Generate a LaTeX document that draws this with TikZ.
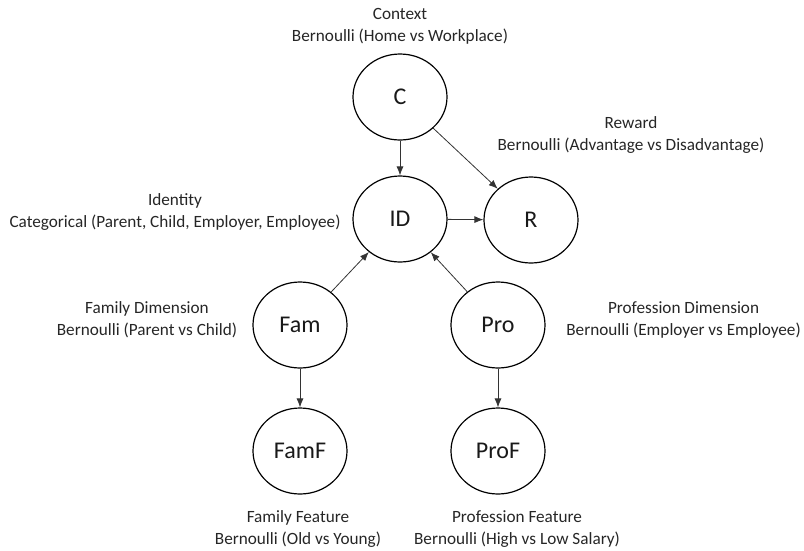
\documentclass[tikz,border=0pt]{standalone}
\usepackage{fontspec}
\setmainfont{Carlito}
\usetikzlibrary{shapes.geometric,arrows.meta}
\tikzset{
  var/.style={ellipse,draw=black,line width=1.2pt,minimum width=94pt,minimum height=86pt,inner sep=0pt,font=\fontsize{24}{28}\selectfont,text=black!90},
  lbl/.style={align=center,inner sep=0pt,font=\fontsize{17.2}{22}\selectfont,text=black!85},
  edge/.style={draw=black!80,line width=0.8pt,-{Latex[length=9pt,width=7pt]}}
}
\begin{document}
\begin{tikzpicture}[x=1pt,y=-1pt]
\useasboundingbox (0,0) rectangle (804,550);
\node[var] (C) at (400,97) {C};
\node[var] (ID) at (400,219) {ID};
\node[var] (R) at (531,220) {R};
\node[var] (Fam) at (300,325) {Fam};
\node[var] (Pro) at (498,325) {Pro};
\node[var] (FamF) at (300,451) {FamF};
\node[var] (ProF) at (498,451) {ProF};

\node[lbl] (lC) at (400,26) {Context\\Bernoulli (Home vs Workplace)};
\node[lbl] (lR) at (631,135) {Reward\\Bernoulli (Advantage vs Disadvantage)};
\node[lbl] (lID) at (175,212) {Identity\\Categorical (Parent, Child, Employer, Employee)};
\node[lbl] (lFam) at (147,320) {Family Dimension\\Bernoulli (Parent vs Child)};
\node[lbl,anchor=east] (lPro) at (801,320) {Profession Dimension\\Bernoulli (Employer vs Employee)};
\node[lbl] (lFamF) at (298,529) {Family Feature\\Bernoulli (Old vs Young)};
\node[lbl] (lProF) at (517,529) {Profession Feature\\Bernoulli (High vs Low Salary)};

\draw[edge] (C) -- (ID);
\draw[edge] (C) -- (R);
\draw[edge] (ID) -- (R);
\draw[edge] (Fam) -- (ID);
\draw[edge] (Pro) -- (ID);
\draw[edge] (Fam) -- (FamF);
\draw[edge] (Pro) -- (ProF);
\end{tikzpicture}
\end{document}
